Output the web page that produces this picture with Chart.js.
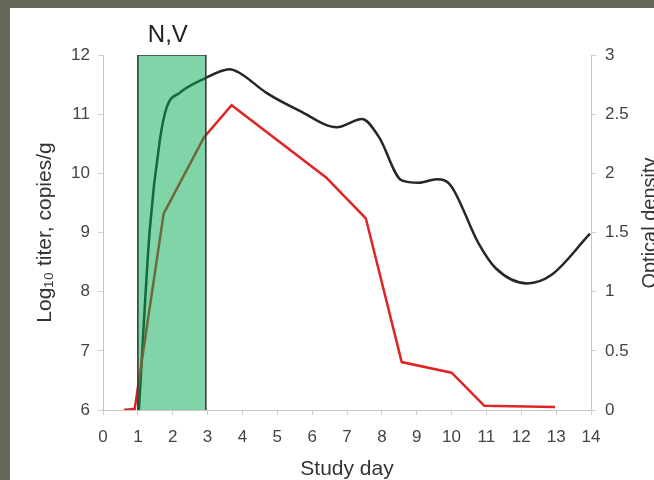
<!DOCTYPE html>
<html><head><meta charset="utf-8">
<style>
html,body{margin:0;padding:0;width:654px;height:480px;overflow:hidden;background:#68685a;}
#wrap{position:absolute;left:10px;top:8px;width:644px;height:472px;background:#fff;overflow:hidden;}
canvas{display:block;}
</style>
<script src="https://cdn.jsdelivr.net/npm/chart.js@4.4.1/dist/chart.umd.min.js"></script>
</head><body><div id="wrap"><canvas id="c" width="644" height="472"></canvas></div>
<script>
// ---- data ----
const xTickValues = [0,1,2,3,4,5,6,7,8,9,10,11,12,13,14];
const leftTickValues = [6,7,8,9,10,11,12];
const rightTickValues = [0,0.5,1,1.5,2,2.5,3];

// Log10 titer (left axis), red line
const titerDays  = [0.6, 0.91, 1.74, 2.9, 3.69, 6.4, 7.54, 8.57, 10.0, 10.94, 12.97];
const titerValues = [6.0, 6.02, 9.32, 10.61, 11.15, 9.93, 9.24, 6.81, 6.63, 6.07, 6.05];

// Optical density (right axis), black smoothed line
const odDays   = [1.03, 1.34, 1.63, 1.83, 2.2, 2.91, 3.63, 3.91, 4.69, 5.63, 6.71, 7.43, 7.91, 8.57, 9.06, 9.57, 9.97, 10.77, 11.26, 12.17, 12.86, 13.97];
const odValues = [0.0, 1.52, 2.28, 2.56, 2.68, 2.80, 2.88, 2.85, 2.68, 2.53, 2.39, 2.46, 2.31, 1.94, 1.92, 1.95, 1.90, 1.41, 1.20, 1.07, 1.14, 1.49];

// Symptom period box (N,V)
const boxLabel = 'N,V';
const boxDays = [1, 2.95];
const boxRange = [6, 12];

const leftTitle = 'Log\u2081\u2080 titer, copies/g';
const rightTitle = 'Optical density';
const xTitle = 'Study day';

// ---- build ----
const FONT = '"Liberation Sans", Arial, sans-serif';
const toPts = (xs, ys) => xs.map((x, i) => ({x, y: ys[i]}));
const boxPts = [
  {x: boxDays[0], y: boxRange[0]}, {x: boxDays[0], y: boxRange[1]},
  {x: boxDays[1], y: boxRange[1]}, {x: boxDays[1], y: boxRange[0]}
];

const annotate = {
  id: 'annotate',
  afterDraw(chart) {
    const ctx = chart.ctx, xs = chart.scales.x, ys = chart.scales.y;
    ctx.save();
    ctx.fillStyle = '#222';
    ctx.font = '24px ' + FONT;
    ctx.textAlign = 'center';
    ctx.textBaseline = 'middle';
    const cx = (xs.getPixelForValue(boxDays[0]) + xs.getPixelForValue(boxDays[1])) / 2 - 4;
    ctx.fillText(boxLabel, cx, ys.getPixelForValue(boxRange[1]) - 20);
    ctx.restore();
    ctx.save();
    ctx.fillStyle = '#333';
    ctx.font = '20px ' + FONT;
    ctx.textAlign = 'center';
    ctx.textBaseline = 'middle';
    ctx.translate(chart.scales.y2.right - 4, 215);
    ctx.rotate(-Math.PI / 2);
    ctx.fillText(rightTitle, 0, 0);
    ctx.restore();
  }
};

const axisGrid = {drawOnChartArea: false, drawTicks: true, tickLength: 5, color: '#cfcfcf'};
const axisBorder = {display: true, color: '#c8c8c8', width: 1};
const tickFont = {family: FONT, size: 17};
const plainNum = v => String(Number(v));

new Chart(document.getElementById('c'), {
  type: 'line',
  data: {
    datasets: [
      {
        label: boxLabel,
        data: boxPts,
        yAxisID: 'y',
        borderColor: '#3a3a3a',
        borderWidth: 1.6,
        backgroundColor: 'rgba(0,172,80,0.5)',
        fill: 'start',
        pointRadius: 0,
        tension: 0,
        order: 0
      },
      {
        label: 'Log10 titer',
        data: toPts(titerDays, titerValues),
        yAxisID: 'y',
        borderColor: '#e02424',
        borderWidth: 2.5,
        pointRadius: 0,
        tension: 0,
        fill: false,
        order: 1
      },
      {
        label: 'Optical density',
        data: toPts(odDays, odValues),
        yAxisID: 'y2',
        borderColor: '#262626',
        borderWidth: 2.5,
        pointRadius: 0,
        cubicInterpolationMode: 'monotone',
        fill: false,
        order: 2
      }
    ]
  },
  options: {
    responsive: false,
    animation: false,
    layout: {padding: {top: 47, left: 0, right: 0, bottom: 0}},
    plugins: {legend: {display: false}, tooltip: {enabled: false}},
    scales: {
      x: {
        type: 'linear', min: 0, max: 14,
        afterBuildTicks: s => { s.ticks = xTickValues.map(v => ({value: v})); },
        afterFit: s => { s.height = 70; },
        grid: axisGrid, border: axisBorder,
        ticks: {font: tickFont, color: '#444', padding: 12, maxRotation: 0, autoSkip: false, callback: plainNum},
        title: {display: true, text: xTitle, color: '#333', font: {family: FONT, size: 21, lineHeight: 1}, padding: {top: 0, bottom: 0}}
      },
      y: {
        type: 'linear', position: 'left', min: 6, max: 12,
        afterBuildTicks: s => { s.ticks = leftTickValues.map(v => ({value: v})); },
        afterFit: s => { s.width = 93; },
        grid: axisGrid, border: axisBorder,
        ticks: {font: tickFont, color: '#444', padding: 8, callback: plainNum},
        title: {display: true, text: leftTitle, color: '#333', font: {family: FONT, size: 21, lineHeight: 1}, padding: {top: 25, bottom: 0}}
      },
      y2: {
        type: 'linear', position: 'right', min: 0, max: 3,
        afterBuildTicks: s => { s.ticks = rightTickValues.map(v => ({value: v})); },
        afterFit: s => { s.width = 63; },
        grid: axisGrid, border: axisBorder,
        ticks: {font: tickFont, color: '#444', padding: 9, callback: plainNum}
      }
    }
  },
  plugins: [annotate]
});
</script>
</body></html>
